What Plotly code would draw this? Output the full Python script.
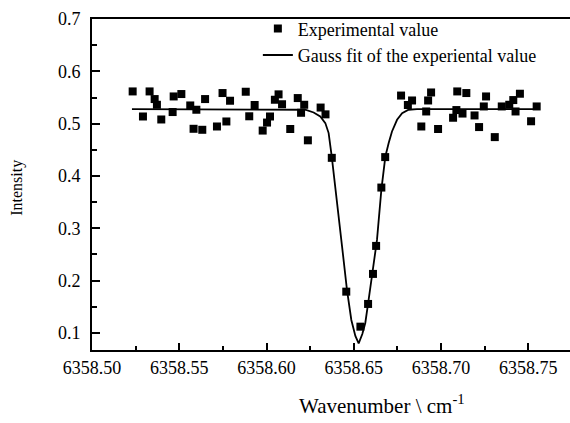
import plotly.graph_objects as go

exp_x = [6358.5233, 6358.5292, 6358.5330, 6358.5359, 6358.5372, 6358.5397, 6358.5462, 6358.5468,
         6358.5512, 6358.5563, 6358.5582, 6358.5598, 6358.5632, 6358.5648, 6358.5716, 6358.5748,
         6358.5770, 6358.5791, 6358.5881, 6358.5901, 6358.5932, 6358.5978, 6358.6003, 6358.6020,
         6358.6048, 6358.6069, 6358.6089, 6358.6136, 6358.6179, 6358.6198, 6358.6216, 6358.6237,
         6358.6310, 6358.6338, 6358.6374, 6358.6457, 6358.6538, 6358.6582, 6358.6610, 6358.6628,
         6358.6658, 6358.6680, 6358.6771, 6358.6810, 6358.6834, 6358.6887, 6358.6915, 6358.6926,
         6358.6943, 6358.6983, 6358.7069, 6358.7088, 6358.7093, 6358.7123, 6358.7145, 6358.7192,
         6358.7218, 6358.7245, 6358.7258, 6358.7308, 6358.7348, 6358.7391, 6358.7414, 6358.7427,
         6358.7452, 6358.7516, 6358.7548]
exp_y = [0.5616, 0.5137, 0.5616, 0.5470, 0.5361, 0.5080, 0.5222, 0.5520,
         0.5566, 0.5348, 0.4902, 0.5266, 0.4883, 0.5470, 0.4946, 0.5585,
         0.5042, 0.5438, 0.5610, 0.5141, 0.5357, 0.4868, 0.5021, 0.5137,
         0.5457, 0.5560, 0.5371, 0.4898, 0.5489, 0.5208, 0.5361, 0.4682,
         0.5308, 0.5178, 0.4347, 0.1790, 0.1121, 0.1555, 0.2129, 0.2664,
         0.3779, 0.4361, 0.5537, 0.5357, 0.5443, 0.4946, 0.5233, 0.5443,
         0.5596, 0.4898, 0.5113, 0.5260, 0.5616, 0.5193, 0.5585, 0.5157,
         0.4935, 0.5329, 0.5520, 0.4743, 0.5329, 0.5361, 0.5451, 0.5233,
         0.5572, 0.5046, 0.5329]

# Gauss fit curve (vertices)
fit_x = [6358.5229, 6358.6194, 6358.6222, 6358.6270, 6358.6308, 6358.6337, 6358.6356, 6358.6374,
         6358.6404, 6358.6433, 6358.6461, 6358.6486, 6358.6509, 6358.6528, 6358.6549, 6358.6566,
         6358.6585, 6358.6614, 6358.6633, 6358.6658, 6358.6681, 6358.6700, 6358.6719, 6358.6748,
         6358.6777, 6358.6814, 6358.6862, 6358.7550]
fit_y = [0.5279, 0.5279, 0.5266, 0.5214, 0.5138, 0.5011, 0.4820, 0.4367,
         0.3544, 0.2651, 0.1823, 0.1249, 0.0943, 0.0803, 0.0981, 0.1191,
         0.1631, 0.2339, 0.2779, 0.3735, 0.4372, 0.4629, 0.4850, 0.5074,
         0.5202, 0.5266, 0.5279, 0.5279]

x_ticks = [6358.50, 6358.55, 6358.60, 6358.65, 6358.70, 6358.75]
x_tick_text = ["6358.50", "6358.55", "6358.60", "6358.65", "6358.70", "6358.75"]
y_ticks = [0.1, 0.2, 0.3, 0.4, 0.5, 0.6, 0.7]
y_tick_text = ["0.1", "0.2", "0.3", "0.4", "0.5", "0.6", "0.7"]

FONT = "Liberation Serif"

fig = go.Figure()
fig.add_trace(go.Scatter(
    x=exp_x, y=exp_y, mode="markers", name="Experimental value",
    marker=dict(symbol="square", size=8, color="black", line=dict(width=0)),
))
fig.add_trace(go.Scatter(
    x=fit_x, y=fit_y, mode="lines", name="Gauss fit of the experiental value",
    line=dict(color="black", width=1.8),
))

fig.update_layout(
    width=570, height=423,
    margin=dict(l=92, r=0, t=19, b=73),
    paper_bgcolor="white", plot_bgcolor="white",
    font=dict(family=FONT, color="black", size=18),
    showlegend=True,
    legend=dict(x=0.347, y=1.026, xanchor="left", yanchor="top",
                bgcolor="rgba(0,0,0,0)", font=dict(family=FONT, size=18),
                tracegroupgap=0, itemwidth=30),
    xaxis=dict(
        range=[6358.5, 6358.7739], showgrid=False, zeroline=False,
        showline=True, linecolor="black", linewidth=2, mirror=True,
        ticks="inside", ticklen=7, tickwidth=1.5, tickcolor="black",
        tickvals=x_ticks, ticktext=x_tick_text,
        tickfont=dict(family=FONT, size=18),
        minor=dict(ticks="inside", ticklen=4, tickwidth=1.5, tickcolor="black",
                   dtick=0.025, tick0=6358.5, showgrid=False),
    ),
    yaxis=dict(
        range=[0.0675, 0.7], showgrid=False, zeroline=False,
        showline=True, linecolor="black", linewidth=2,
        ticks="inside", ticklen=8, tickwidth=1.5, tickcolor="black",
        tickvals=y_ticks, ticktext=y_tick_text,
        tickfont=dict(family=FONT, size=18),
        ticklabelstandoff=6,
        minor=dict(ticks="inside", ticklen=5, tickwidth=1.5, tickcolor="black",
                   dtick=0.05, tick0=0.0, showgrid=False),
    ),
    annotations=[
        dict(text="Wavenumber \\ cm<sup>-1</sup>", x=0.6077, y=-0.166,
             xref="paper", yref="paper", xanchor="center", yanchor="middle",
             showarrow=False, font=dict(family=FONT, size=21)),
        dict(text="Intensity", x=-0.157, y=0.49, textangle=-90,
             xref="paper", yref="paper", xanchor="center", yanchor="middle",
             showarrow=False, font=dict(family=FONT, size=16)),
    ],
)

fig.write_html("out.html")
